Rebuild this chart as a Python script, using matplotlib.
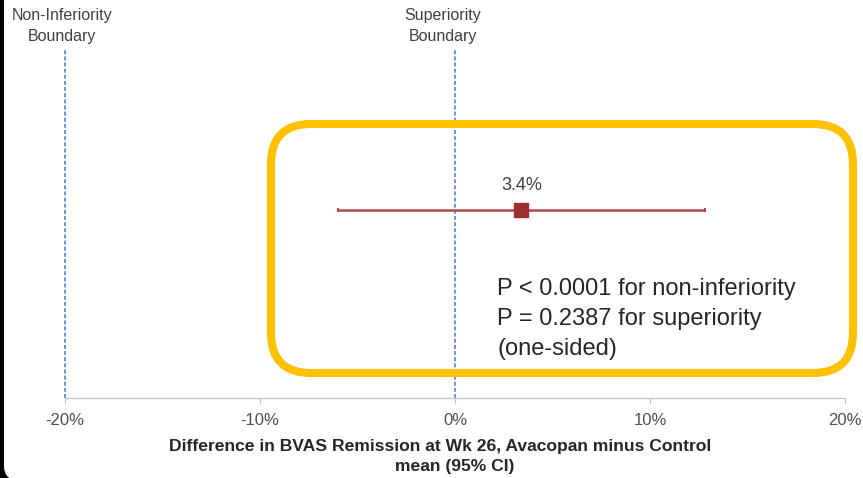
import matplotlib
matplotlib.use("Agg")
import matplotlib.pyplot as plt
from matplotlib.patches import FancyBboxPatch

plt.rcParams['font.family'] = ['Liberation Sans', 'DejaVu Sans']

# Data
estimate = 3.4          # mean difference, %
ci_low = -6.0           # lower 95% CI bound, %
ci_high = 12.8          # upper 95% CI bound, %
boundaries = [-20, 0]   # non-inferiority and superiority margins, %
boundary_labels = ["Non-Inferiority\nBoundary", "Superiority\nBoundary"]
tick_values = [-20, -10, 0, 10, 20]
tick_labels = ["-20%", "-10%", "0%", "10%", "20%"]
p_text = "P < 0.0001 for non-inferiority\nP = 0.2387 for superiority\n(one-sided)"

W, H = 863, 478
fig = plt.figure(figsize=(W / 100, H / 100), dpi=100)
fig.patch.set_facecolor("black")

# white rounded slide panel
px = fig.dpi_scale_trans
panel = FancyBboxPatch((4 / 100, -2 / 100), 10, 10,
                       boxstyle="round,pad=0,rounding_size=0.14",
                       transform=px, facecolor="white", edgecolor="none",
                       zorder=-2)
fig.add_artist(panel)

# axes: x from -20% to 20%
ax_left, ax_right = 65, 845
ax_top, ax_bottom = 50, 398
ax = fig.add_axes([ax_left / W, (H - ax_bottom) / H,
                   (ax_right - ax_left) / W, (ax_bottom - ax_top) / H])
ax.set_facecolor("none")
ax.set_xlim(-20, 20)
ax.set_ylim(0, 1.85)

for s in ["top", "right", "left"]:
    ax.spines[s].set_visible(False)
ax.spines["bottom"].set_color("#c8c8c8")
ax.spines["bottom"].set_linewidth(1.0)
ax.set_yticks([])
ax.set_xticks(tick_values)
ax.set_xticklabels(tick_labels)
ax.tick_params(axis="x", direction="out", length=4.5, width=0.8,
               color="#c8c8c8", labelsize=12, labelcolor="#505050", pad=6)

# boundary lines and their labels
for b, lab, xc in zip(boundaries, boundary_labels, [62, 443]):
    ax.axvline(b, color="#5b8ed6", lw=1.3, linestyle=(0, (2.2, 1.2)),
               zorder=1, clip_on=False)
    fig.text(xc / W, (H - 26) / H, lab, ha="center", va="center",
             fontsize=11.5, color="#404040", linespacing=1.55)

# estimate with 95% CI
y0 = 1.0
ax.errorbar([estimate], [y0],
            xerr=[[estimate - ci_low], [ci_high - estimate]],
            fmt="s", color="#9e2f2f", markersize=10.5,
            ecolor="#b04a4a", elinewidth=1.8, capsize=1.6, capthick=1.5,
            zorder=3)
ax.annotate(f"{estimate}%", (estimate, y0), textcoords="offset pixels",
            xytext=(0, 24), ha="center", va="center", fontsize=13,
            color="#404040")

# highlight box around the result
box = FancyBboxPatch((271 / 100, (H - 373) / 100), 582 / 100, 249 / 100,
                     boxstyle="round,pad=0,rounding_size=0.40",
                     transform=px, facecolor="none", edgecolor="#ffc000",
                     linewidth=5.8, zorder=5)
fig.add_artist(box)

fig.text(497 / W, (H - 319) / H, p_text, ha="left", va="center",
         fontsize=17, color="#262626", linespacing=1.47)

# axis title
fig.text(440 / W, (H - 447) / H,
         "Difference in BVAS Remission at Wk 26, Avacopan minus Control",
         ha="center", va="center", fontsize=12.6, fontweight="bold",
         color="#262626")
fig.text(455 / W, (H - 466) / H, "mean (95% CI)", ha="center", va="center",
         fontsize=12.6, fontweight="bold", color="#262626")

fig.savefig("out.png", dpi=100, facecolor=fig.get_facecolor())
